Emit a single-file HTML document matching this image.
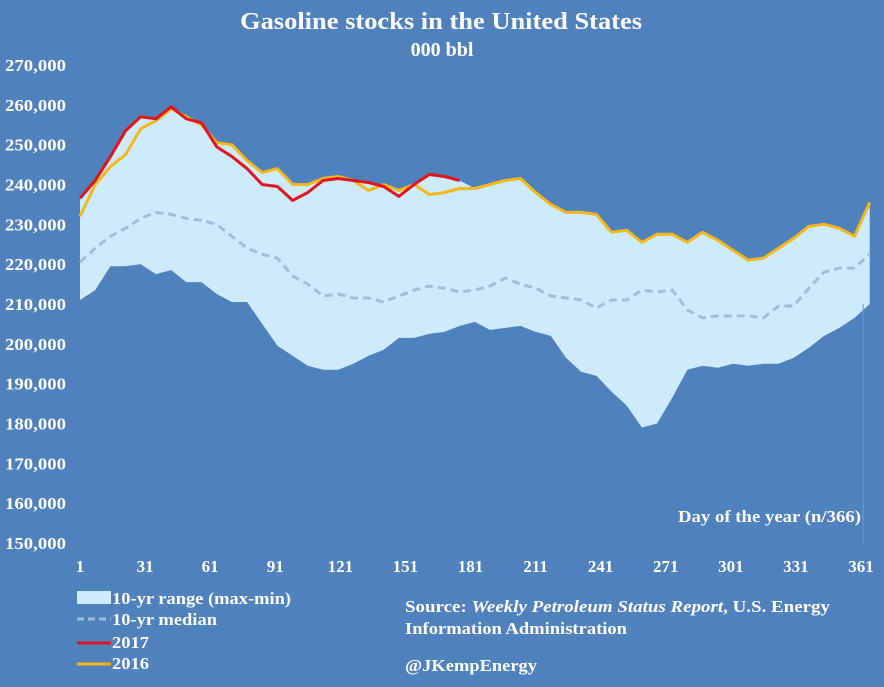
<!DOCTYPE html>
<html><head><meta charset="utf-8"><style>
body{margin:0;background:#4f81bd;}
svg{display:block;font-family:"Liberation Serif",serif;}
</style></head><body>
<svg id="chart" width="884" height="687">
<rect width="884" height="687" fill="#4f81bd"/>
<text x="240" y="29" textLength="402" lengthAdjust="spacingAndGlyphs" fill="#fff" font-size="24" font-weight="bold">Gasoline stocks in the United States</text>
<text x="442" y="56" text-anchor="middle" fill="#fff" font-size="20" font-weight="bold">000 bbl</text>
<g id="plot"></g>
<text x="678" y="522" textLength="183" lengthAdjust="spacingAndGlyphs" fill="#fff" font-size="17" font-weight="bold">Day of the year (n/366)</text>
<g font-size="17" font-weight="bold" fill="#fff">
<rect x="77" y="591" width="34" height="13" fill="#cdebfc"/>
<text x="112" y="604" textLength="179" lengthAdjust="spacingAndGlyphs">10-yr range (max-min)</text>
<line x1="77" y1="619" x2="111" y2="619" stroke="#a4bcd8" stroke-width="3" stroke-dasharray="7,4"/>
<text x="112" y="625" textLength="105" lengthAdjust="spacingAndGlyphs">10-yr median</text>
<line x1="77" y1="643" x2="111" y2="643" stroke="#e0141e" stroke-width="3"/>
<text x="112" y="648" textLength="37" lengthAdjust="spacingAndGlyphs">2017</text>
<line x1="77" y1="664" x2="111" y2="664" stroke="#f4b81a" stroke-width="3"/>
<text x="112" y="669" textLength="37" lengthAdjust="spacingAndGlyphs">2016</text>
</g>
<g font-size="17" font-weight="bold" fill="#fff">
<text x="405" y="612" textLength="425" lengthAdjust="spacingAndGlyphs">Source: <tspan font-style="italic">Weekly Petroleum Status Report</tspan>, U.S. Energy</text>
<text x="405" y="634" textLength="222" lengthAdjust="spacingAndGlyphs">Information Administration</text>
<text x="405" y="671" textLength="132" lengthAdjust="spacingAndGlyphs">@JKempEnergy</text>
</g>
</svg>
<script>
const days=[1,8,15,22,29,36,43,50,57,64,71,78,85,92,99,106,113,120,127,134,141,148,155,162,169,176,183,190,197,204,211,218,225,232,239,246,253,260,267,274,281,288,295,302,309,316,323,330,337,344,351,358,365];
const s2016=[232,240,244.5,247.5,254,256,259,257,255,250.5,250,246,243,244,240,240,241.5,242,241,238.5,240,238.5,240,237.5,238,239,239,240,241,241.5,238,235,233,233,232.5,228,228.5,225.5,227.5,227.5,225.5,228,226,223.5,221,221.5,224,226.5,229.5,230,229,227,235.5];
const days2017=[1,8,15,22,29,36,43,50,57,64,71,78,85,92,99,106,113,120,127,134,141,148,155,162,169,176];
const s2017=[236.5,241,247,253.5,257,256.5,259.5,256.5,255.5,249.5,247,244,240,239.5,236,238,241,241.5,241,240.5,239.5,237,240,242.5,242,241];
const median=[220.5,224,227,229,231.5,233,232.5,231.5,231,230,227,224,222.5,221.5,217,215,212,212.5,211.5,211.5,210.5,212,213.5,214.5,214,213,213.5,214.5,216.5,215,214,212,211.5,211,209,211,211,213.5,213,213.5,208.5,206.5,207,207,207,206.5,209.5,209.5,214,218,219,219,222.5];
const rangeMin=[211,213.5,219.5,219.5,220,217.5,218.5,215.5,215.5,212.5,210.5,210.5,205,199.5,197,194.5,193.5,193.5,195,197,198.5,201.5,201.5,202.5,203,204.5,205.5,203.5,204,204.5,203,202,196.5,193,192,188,184.5,179,180,186.5,193.5,194.5,194,195,194.5,195,195,196.5,199,202,204,206.5,210];
const rangeMax=[236.5,241,247,253.5,257,256.5,259.5,257,255.5,250.5,250,246,243,244,240,240,241.5,242,241,240.5,240,238.5,240,242.5,242,241,239,240,241,241.5,238,235,233,233,232.5,228,228.5,225.5,227.5,227.5,225.5,228,226,223.5,221,221.5,224,226.5,229.5,230,229,227,235.5];
const yTicks=[150,160,170,180,190,200,210,220,230,240,250,260,270];
const xTicks=[1,31,61,91,121,151,181,211,241,271,301,331,361];

const NS="http://www.w3.org/2000/svg";
const g=document.getElementById('plot');
const X=d=>80+(d-1)*(781/360);
const Y=v=>543-(v-150)*(478/120);
function mk(t,a){const e=document.createElementNS(NS,t);for(const k in a)e.setAttribute(k,a[k]);g.appendChild(e);return e;}
function pts(ds,vs){return ds.map((d,i)=>X(d).toFixed(1)+','+Y(vs[i]).toFixed(1));}

let area=pts(days,rangeMax).concat(pts(days,rangeMin).reverse());
const band=mk('polygon',{points:area.join(' '),fill:'#cdebfc'});



const ml=mk('polyline',{points:pts(days,median).join(' '),fill:'none',stroke:'#a4bcd8','stroke-width':3,'stroke-dasharray':'8,5'});



const l16=mk('polyline',{points:pts(days,s2016).join(' '),fill:'none',stroke:'#f4b81a','stroke-width':3,'stroke-linejoin':'round'});



const l17=mk('polyline',{points:pts(days2017,s2017).join(' '),fill:'none',stroke:'#e0141e','stroke-width':3,'stroke-linejoin':'round'});



const ax=mk('line',{x1:X(362),x2:X(362),y1:Y(210),y2:Y(150),stroke:'#6f98cc','stroke-width':1});



yTicks.forEach(v=>{
  const t=mk('text',{x:5,y:Y(v)+6,fill:'#fff','font-size':17,'font-weight':'bold',textLength:61,lengthAdjust:'spacingAndGlyphs'});
  t.textContent=(v*1000).toLocaleString('en-US');
  
  
});
xTicks.forEach(d=>{
  const t=mk('text',{x:X(d),y:572,fill:'#fff','font-size':17,'font-weight':'bold','text-anchor':'middle'});
  t.textContent=d;
  
  
});
</script>
</body></html>
